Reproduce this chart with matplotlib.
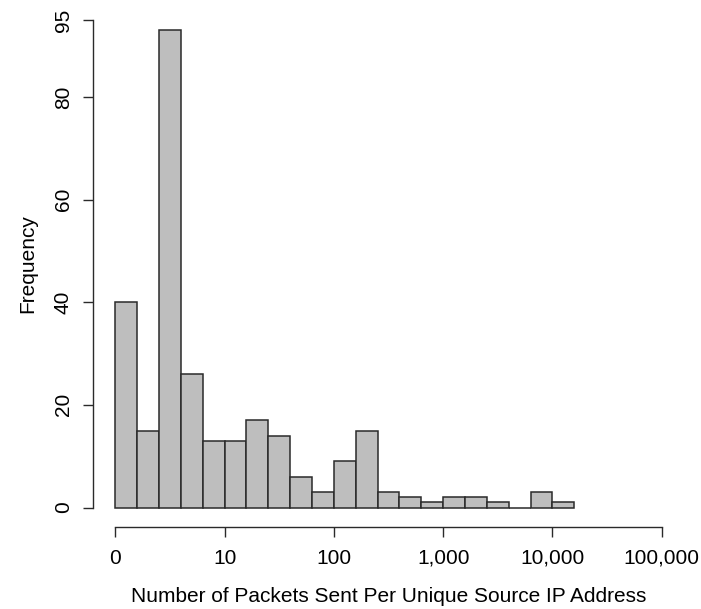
import matplotlib
matplotlib.use("Agg")
import matplotlib.pyplot as plt

# ---------------------------------------------------------------------------
# Datos: histograma sobre log10(paquetes), bins de ancho 0.2
# ---------------------------------------------------------------------------
bin_edges = [0.0, 0.2, 0.4, 0.6, 0.8, 1.0, 1.2, 1.4, 1.6, 1.8, 2.0,
             2.2, 2.4, 2.6, 2.8, 3.0, 3.2, 3.4, 3.6, 3.8, 4.0, 4.2]
counts = [40, 15, 93, 26, 13, 13, 17, 14, 6, 3, 9,
          15, 3, 2, 1, 2, 2, 1, 0, 3, 1]

x_ticks = [0, 1, 2, 3, 4, 5]
x_tick_labels = ["0", "10", "100", "1,000", "10,000", "100,000"]
y_ticks = [0, 20, 40, 60, 80, 95]

x_label = "Number of Packets Sent Per Unique Source IP Address"
y_label = "Frequency"

# ---------------------------------------------------------------------------
# Figura
# ---------------------------------------------------------------------------
plt.rcParams["font.family"] = ["Liberation Sans", "DejaVu Sans"]
FS = 15

fig = plt.figure(figsize=(7.01, 6.09), dpi=100)
ax = fig.add_axes([93.5 / 701, (609 - 527) / 609, 590 / 701, 526.5 / 609])

lefts = bin_edges[:-1]
widths = [b - a for a, b in zip(bin_edges[:-1], bin_edges[1:])]
ax.bar(lefts, counts, width=widths, align="edge",
       color="#bebebe", edgecolor="#2a2a2a", linewidth=1.1)

ax.set_xlim(-0.2, 5.2)
ax.set_ylim(-3.8, 98.8)

for side in ["top", "right"]:
    ax.spines[side].set_visible(False)
ax.spines["left"].set_bounds(0, 95)
ax.spines["bottom"].set_bounds(0, 5)
for side in ["left", "bottom"]:
    ax.spines[side].set_linewidth(1.0)
    ax.spines[side].set_color("#2a2a2a")

ax.set_xticks(x_ticks)
ax.set_xticklabels(x_tick_labels, fontsize=FS)
ax.set_yticks(y_ticks)
ax.set_yticklabels([str(v) for v in y_ticks], fontsize=FS, rotation=90, va="center")
ax.tick_params(axis="both", length=7.0, width=1.0, color="#2a2a2a")
ax.tick_params(axis="x", pad=8.5)
ax.tick_params(axis="y", pad=8)

ax.set_xlabel(x_label, fontsize=FS, labelpad=14)
ax.set_ylabel(y_label, fontsize=FS, labelpad=12)

fig.savefig("out.png", dpi=100)
